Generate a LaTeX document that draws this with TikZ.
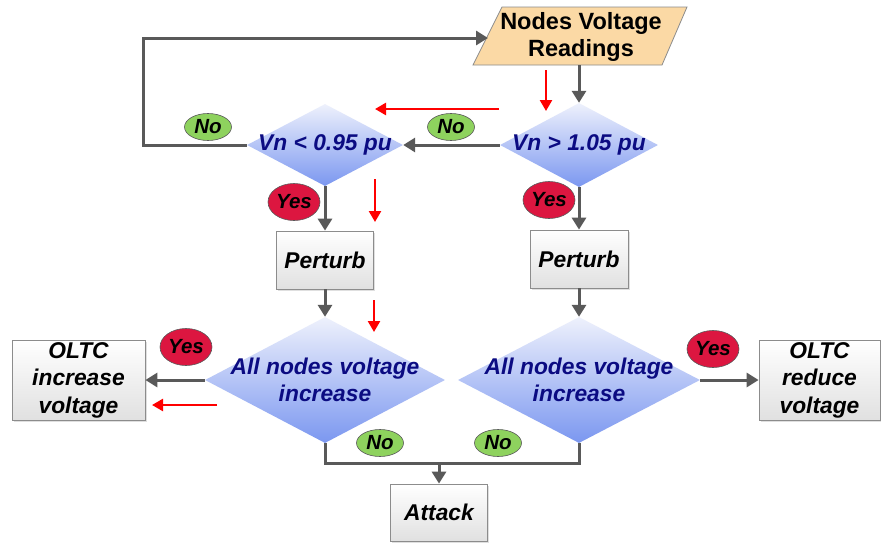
\documentclass[tikz,border=0pt]{standalone}
\usepackage{fontspec}
\setmainfont{Liberation Sans}
\usetikzlibrary{shapes.geometric,arrows.meta,shadows}
\definecolor{arrgray}{HTML}{595959}
\definecolor{dtop}{HTML}{EEF1FC}
\definecolor{dbot}{HTML}{7B97F0}
\definecolor{navy}{HTML}{0B0B82}
\definecolor{nogreen}{HTML}{8ED25E}
\definecolor{yesred}{HTML}{DC1640}
\definecolor{paraf}{HTML}{FBD9A5}
\definecolor{boxline}{HTML}{8C8C8C}
\begin{document}
\begin{tikzpicture}[x=1pt,y=-1pt,
  dec/.style={diamond, inner sep=0pt, top color=dtop, bottom color=dbot, draw=none},
  dtext/.style={font=\fontsize{22.8}{26.5}\selectfont\bfseries\itshape, text=navy, align=center, inner sep=0pt},
  procbox/.style={rectangle, draw=boxline, line width=0.8pt, top color=white, bottom color=black!12,
    drop shadow={shadow xshift=1.5pt,shadow yshift=-1.5pt,opacity=0.25},
    font=\fontsize{22.8}{27.5}\selectfont\bfseries\itshape, align=center, inner sep=0pt},
  noell/.style={ellipse, draw=arrgray, line width=0.6pt, fill=nogreen, minimum width=47pt, minimum height=27pt,
    inner sep=0pt, font=\fontsize{20.5}{21}\selectfont\bfseries\itshape},
  yesell/.style={ellipse, draw=arrgray, line width=0.6pt, fill=yesred, minimum width=52pt, minimum height=37pt,
    inner sep=0pt, font=\fontsize{20.5}{21}\selectfont\bfseries\itshape},
  garrow/.style={draw=arrgray, line width=3pt, -{Triangle[length=12pt,width=14pt]}},
  gline/.style={draw=arrgray, line width=3pt},
  rarrow/.style={draw=red, line width=2.5pt, -{Triangle[length=11pt,width=12pt]}}
]
\fill[white] (0,0) rectangle (881,544);
\useasboundingbox (0,0) rectangle (881,544);

% input parallelogram
\filldraw[fill=paraf, draw=boxline, line width=0.8pt] (473,65) -- (502,7) -- (687,7) -- (662,65) -- cycle;
\node[font=\fontsize{23.5}{27}\selectfont\bfseries, align=center, inner sep=0pt] (para) at (581,37) {Nodes Voltage\\Readings};
\coordinate (paraL) at (488,38);
\coordinate (paraB) at (579,65);

% decisions
\node[dec, minimum width=158pt, minimum height=84pt] (d1) at (579,145) {};
\node[dtext] (d1t) at (579,145) {Vn > 1.05 pu};
\node[dec, minimum width=156pt, minimum height=82pt] (d2) at (325,145) {};
\node[dtext] (d2t) at (325,145) {Vn < 0.95 pu};
\node[dec, minimum width=240pt, minimum height=126pt] (d3) at (325,380) {};
\node[dtext] (d3t) at (325,380) {All nodes voltage\\increase};
\node[dec, minimum width=242pt, minimum height=126pt] (d4) at (579,380) {};
\node[dtext] (d4t) at (579,380) {All nodes voltage\\increase};

% process boxes
\node[procbox, minimum width=97pt, minimum height=58pt] (p1) at (325,260) {Perturb};
\node[procbox, minimum width=98pt, minimum height=58pt] (p2) at (579,259) {Perturb};
\node[procbox, minimum width=133pt, minimum height=80pt] (oltcI) at (78.5,380) {OLTC\\increase\\voltage};
\node[procbox, minimum width=121pt, minimum height=80pt] (oltcR) at (819.5,380) {OLTC\\reduce\\voltage};
\node[procbox, minimum width=97pt, minimum height=57pt] (attack) at (439,512.5) {Attack};

% connectors
\coordinate (fbk) at (143,38);
\coordinate (join) at (439,463);
\draw[garrow] (paraB) -- (d1.north);
\draw[garrow] (d1.west) -- (d2.east);
\draw[garrow] (d2.west) -| (fbk) -- (paraL);
\draw[garrow] (d2.south) -- (p1.north);
\draw[garrow] (d1.south) -- (p2.north);
\draw[garrow] (p1.south) -- (d3.north);
\draw[garrow] (p2.south) -- (d4.north);
\draw[garrow] (d3.west) -- (oltcI.east);
\draw[garrow] (d4.east) -- (oltcR.west);
\draw[gline] (d3.south) |- (join) -| (d4.south);
\draw[garrow] (join) -- (attack.north);

% red annotation arrows
\coordinate (r1s) at (546,70);  \coordinate (r1e) at (546,111);
\coordinate (r2s) at (499,109); \coordinate (r2e) at (375,109);
\coordinate (r3s) at (375,179); \coordinate (r3e) at (375,222);
\coordinate (r4s) at (374,300); \coordinate (r4e) at (374,332);
\coordinate (r5s) at (217,405); \coordinate (r5e) at (152,405);
\draw[rarrow] (r1s) -- (r1e);
\draw[rarrow] (r2s) -- (r2e);
\draw[rarrow] (r3s) -- (r3e);
\draw[rarrow] (r4s) -- (r4e);
\draw[rarrow] (r5s) -- (r5e);

% labels
\node[noell] (no1) at (451,127) {No};
\node[noell] (no2) at (208,127) {No};
\node[noell] (no3) at (380,443) {No};
\node[noell] (no4) at (498,443) {No};
\node[yesell] (yes1) at (294,202) {Yes};
\node[yesell] (yes2) at (549,200) {Yes};
\node[yesell] (yes3) at (186,347) {Yes};
\node[yesell] (yes4) at (713,349) {Yes};
\end{tikzpicture}
\end{document}
